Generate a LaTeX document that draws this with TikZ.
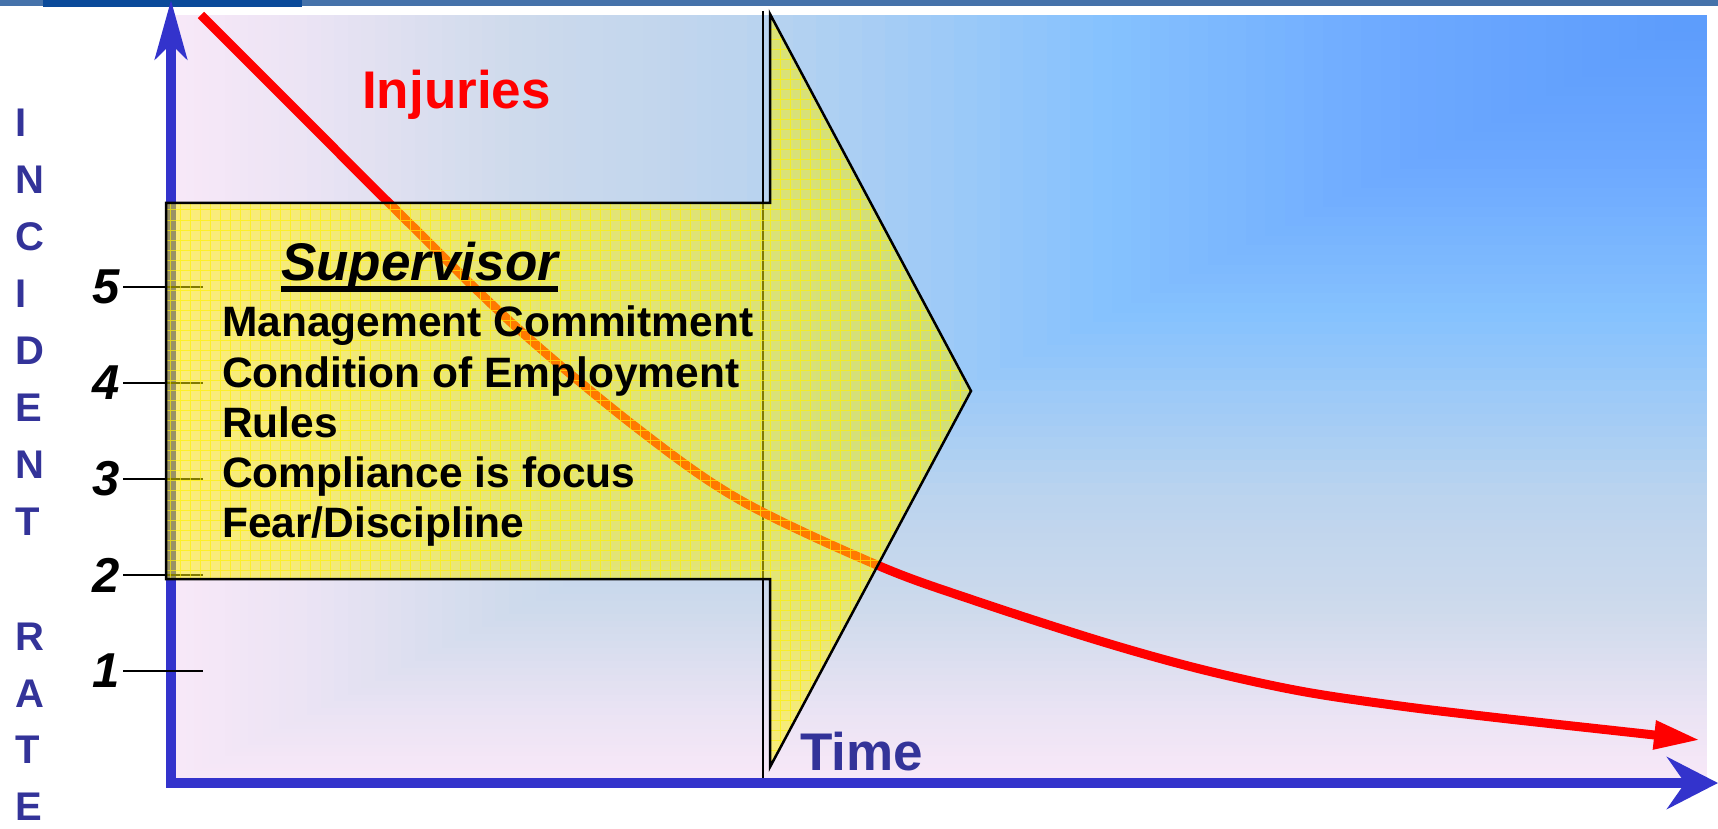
\documentclass[tikz,border=0pt]{standalone}
\usepackage{fontspec}
\setmainfont{Liberation Sans}
\usetikzlibrary{arrows.meta}
\definecolor{barBlue}{RGB}{69,114,170}
\definecolor{barDark}{RGB}{10,74,154}
\definecolor{axisBlue}{RGB}{51,51,204}
\definecolor{labelBlue}{RGB}{51,51,153}
\definecolor{bgA}{RGB}{248,232,248}
\definecolor{bgB}{RGB}{236,228,244}
\definecolor{bgC}{RGB}{206,218,236}
\definecolor{bgD}{RGB}{188,212,238}
\definecolor{bgE}{RGB}{134,194,254}
\definecolor{bgF}{RGB}{108,168,255}
\definecolor{bgG}{RGB}{92,156,252}
\newcommand\bgband[4]{%
  \foreach \bgk in {0,...,15}{%
    \pgfmathsetmacro\bgt{#1-(#1-#2)*\bgk/16}%
    \pgfmathtruncatemacro\bgp{round(100*\bgk/16)}%
    \pgfmathsetmacro\bgrx{\bgt*1536}%
    \pgfmathsetmacro\bgry{\bgt*768}%
    \fill[#4!\bgp!#3] (bgc) rectangle ++(-\bgrx,\bgry);
  }}
\tikzset{
  axisline/.style={draw=axisBlue, line width=10pt, line join=miter},
  tickline/.style={draw=black, line width=2pt},
  divline/.style={draw=black, line width=2pt},
  injcurve/.style={draw=red, line width=9pt},
  yarrowfill/.style={fill=yellow, fill opacity=0.5},
  yarrowgrid/.style={draw=yellow, line width=1pt, opacity=0.65},
  yarrowedge/.style={draw=black, line width=2.5pt, line join=miter},
  vlet/.style={inner sep=0pt, text=labelBlue, font=\bfseries\fontsize{40}{40}\selectfont, anchor=west},
  numlbl/.style={inner sep=0pt, font=\bfseries\itshape\fontsize{49}{49}\selectfont, anchor=east},
  boxline/.style={inner sep=0pt, font=\bfseries\fontsize{42.5}{50}\selectfont, anchor=base west},
  bigtext/.style={inner sep=0pt, font=\bfseries\fontsize{53}{60}\selectfont, anchor=base west}
}
\begin{document}
\begin{tikzpicture}[x=1pt,y=-1pt]
\useasboundingbox (0,0) rectangle (1718,829);
\fill[white] (0,0) rectangle (1718,829);
% top bar
\fill[barBlue] (0,0) rectangle (1718,6);
\fill[barDark] (43,0) rectangle (302,7);
% background gradient (rectangular, from the top right corner)
\coordinate (bgc) at (1707,15);
\begin{scope}
  \clip (171,15) rectangle (1707,783);
  \fill[bgA] (171,15) rectangle (1707,783);
  \bgband{1.0}{0.92}{bgA}{bgB}
  \bgband{0.92}{0.78}{bgB}{bgC}
  \bgband{0.78}{0.64}{bgC}{bgD}
  \bgband{0.64}{0.4}{bgD}{bgE}
  \bgband{0.4}{0.2}{bgE}{bgF}
  \bgband{0.2}{0.01}{bgF}{bgG}
\end{scope}
% divider
\coordinate (divtop) at (763,11);
\coordinate (divbot) at (763,783);
\draw[divline] (divtop) -- (divbot);
% axes
\coordinate (ytip) at (171,0);
\coordinate (origin) at (171,783);
\coordinate (xtip) at (1718,783);
\draw[axisline, {Stealth[length=59pt,width=32pt,inset=15pt]}-{Stealth[length=51pt,width=52pt,inset=18pt]}] (ytip) -- (origin) -- (xtip);
% numbers and ticks
\foreach \n/\yy in {5/287,4/383,3/479,2/575,1/671}{
  \node[numlbl] (n\n) at (120,\yy) {\n};
  \draw[tickline] ([xshift=3pt]n\n.east) -- ++(80,0);
}
% injuries curve
\draw[injcurve, -{Triangle[length=46pt,width=27pt]}] plot[smooth, tension=0.55] coordinates {(201,15) (300,114) (397,211) (515,326) (637,428) (740,500) (877,565) (973,600) (1100,641) (1200,669) (1300,691) (1400,706) (1500,718) (1600,729) (1700,740)};
% yellow block arrow
\coordinate (a1) at (166,203);
\coordinate (a2) at (770,203);
\coordinate (a3) at (770,14);
\coordinate (a4) at (971,391);
\coordinate (a5) at (770,767);
\coordinate (a6) at (770,579);
\coordinate (a7) at (166,579);
\fill[yarrowfill] (a1) -- (a2) -- (a3) -- (a4) -- (a5) -- (a6) -- (a7) -- cycle;
\begin{scope}
  \clip (a1) -- (a2) -- (a3) -- (a4) -- (a5) -- (a6) -- (a7) -- cycle;
  \draw[yarrowgrid, step=10pt] (160,10) grid (980,770);
\end{scope}
\draw[yarrowedge] (a1) -- (a2) -- (a3) -- (a4) -- (a5) -- (a6) -- (a7) -- cycle;
% texts
\node[bigtext, text=red] (inj) at (362,109) {Injuries};
\node[bigtext, font=\bfseries\itshape\fontsize{53}{60}\selectfont] (sup) at (281,280) {Supervisor};
\draw[line width=5.5pt] ([yshift=-9pt]sup.base west) -- ([yshift=-9pt]sup.base east);
\node[boxline] (l1) at (222,336) {Management Commitment};
\node[boxline] (l2) at (222,387) {Condition of Employment};
\node[boxline] (l3) at (222,437) {Rules};
\node[boxline] (l4) at (222,487) {Compliance is focus};
\node[boxline] (l5) at (222,537) {Fear/Discipline};
\node[bigtext, text=labelBlue] (time) at (800,770) {Time};
\foreach \ch [count=\i from 0] in {I,N,C,I,D,E,N,T}
  \node[vlet] (v\i) at (15,{123+57*\i}) {\ch};
\foreach \ch [count=\i from 0] in {R,A,T,E}
  \node[vlet] (r\i) at (15,{637+56.5*\i}) {\ch};
\end{tikzpicture}
\end{document}
